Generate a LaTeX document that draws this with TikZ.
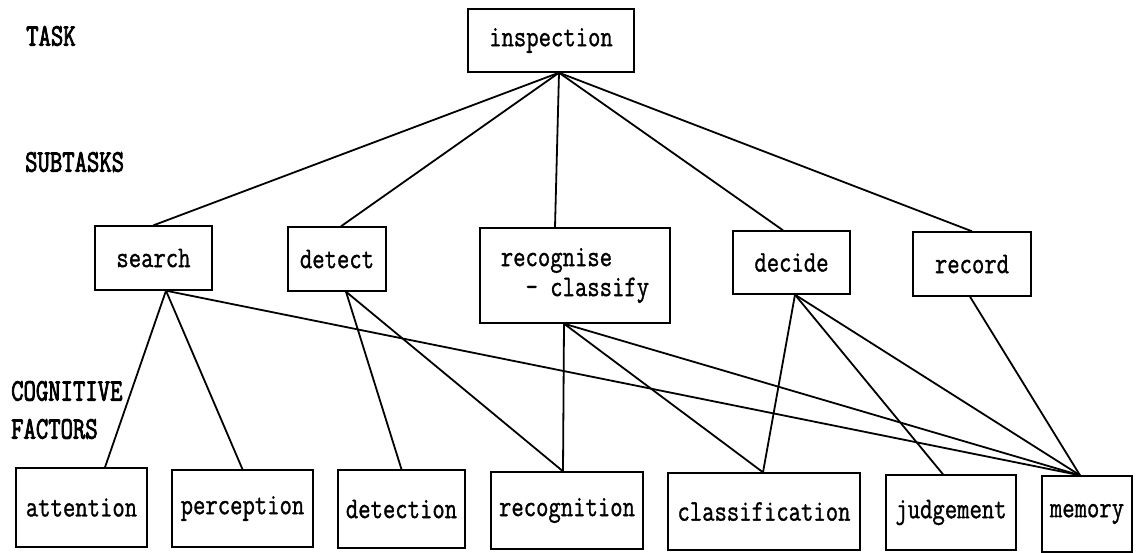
\documentclass[tikz,border=0pt]{standalone}
\usepackage{fontspec}
\newfontfamily\nodefont[FakeBold=1.2]{Latin Modern Mono}
\newfontfamily\labelfont[FakeBold=3]{Latin Modern Mono}
\usetikzlibrary{calc}
\newcommand\talltxt[1]{\scalebox{1}[1.25]{#1}}
\newcommand\talllab[1]{\scalebox{1}[1.3]{#1}}
\begin{document}
\begin{tikzpicture}[x=1pt,y=-1pt,
  box/.style={draw, line width=1.4pt, inner sep=0pt, align=left,
    font=\fontsize{24}{30}\selectfont\nodefont},
  lab/.style={anchor=west, inner sep=0pt,
    font=\fontsize{24}{30}\selectfont\labelfont},
  link/.style={line width=1.8pt}]
\useasboundingbox (0,0) rectangle (1144,552);

% labels
\node[lab] (ltask) at (26,36) {\talllab{TASK}};
\node[lab] (lsub) at (25,162) {\talllab{SUBTASKS}};
\node[lab] (lcog) at (11,391) {\talllab{COGNITIVE}};
\node[lab] (lfac) at (11,429) {\talllab{FACTORS}};

% task
\node[box, minimum width=166pt, minimum height=63pt] (insp) at (551,40.5) {\talltxt{inspection}};

% subtasks
\node[box, minimum width=117pt, minimum height=64pt] (search) at (153.5,258) {\talltxt{search}};
\node[box, minimum width=98pt, minimum height=64pt] (detect) at (337,259) {\talltxt{detect}};
\node[box, minimum width=190pt, minimum height=95pt] (recog) at (575,275.5) {\talltxt{recognise}\\\talltxt{\ \ - classify}};
\node[box, minimum width=117pt, minimum height=63pt] (decide) at (791.5,262.5) {\talltxt{decide}};
\node[box, minimum width=118pt, minimum height=64pt] (record) at (972,264) {\talltxt{record}};

% cognitive factors
\node[box, minimum width=131pt, minimum height=79pt] (attn) at (81.5,507.5) {\talltxt{attention}};
\node[box, minimum width=141pt, minimum height=77pt] (perc) at (242.5,508.5) {\talltxt{perception}};
\node[box, minimum width=127pt, minimum height=78pt] (detn) at (401.5,509) {\talltxt{detection}};
\node[box, minimum width=152pt, minimum height=77pt] (recn) at (567,510.5) {\talltxt{recognition}};
\node[box, minimum width=192pt, minimum height=77pt] (clas) at (764,511.5) {\talltxt{classification}};
\node[box, minimum width=130pt, minimum height=75pt] (judg) at (951,512.5) {\talltxt{judgement}};
\node[box, minimum width=90pt, minimum height=76pt] (mem) at (1087,514) {\talltxt{memory}};

% connection points
\coordinate (inspB) at ([xshift=8pt]insp.south);
\coordinate (searchB) at ([xshift=12.5pt]search.south);
\coordinate (detectB) at ([xshift=9pt]detect.south);
\coordinate (recogB) at ([xshift=-11pt]recog.south);
\coordinate (decideB) at ([xshift=3.5pt]decide.south);
\coordinate (recordB) at ([xshift=-2pt]record.south);
\coordinate (memT) at ([xshift=-7pt]mem.north);

% task -> subtasks
\draw[link] (inspB) -- (search.north);
\draw[link] (inspB) -- ([xshift=4pt]detect.north);
\draw[link] (inspB) -- ([xshift=-20pt]recog.north);
\draw[link] (inspB) -- ([xshift=-8.5pt]decide.north);
\draw[link] (inspB) -- (record.north);

% subtasks -> factors
\draw[link] (searchB) -- ([xshift=23.5pt]attn.north);
\draw[link] (searchB) -- (perc.north);
\draw[link] (searchB) -- (memT);
\draw[link] (detectB) -- (detn.north);
\draw[link] (detectB) -- ([xshift=-4pt]recn.north);
\draw[link] (recogB) -- ([xshift=-4pt]recn.north);
\draw[link] (recogB) -- ([xshift=-1pt]clas.north);
\draw[link] (recogB) -- (memT);
\draw[link] (decideB) -- ([xshift=-1pt]clas.north);
\draw[link] (decideB) -- ([xshift=-8pt]judg.north);
\draw[link] (decideB) -- (memT);
\draw[link] (recordB) -- (memT);
\end{tikzpicture}
\end{document}
